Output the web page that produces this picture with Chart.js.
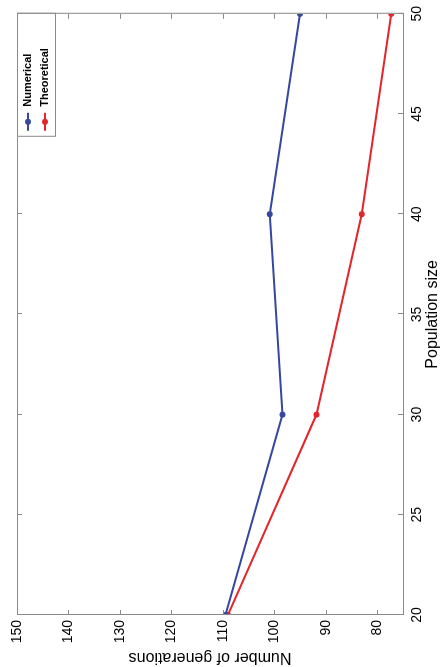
<!DOCTYPE html>
<html>
<head>
<meta charset="utf-8">
<script src="https://cdn.jsdelivr.net/npm/chart.js@4"></script>
<style>
  html, body { margin: 0; padding: 0; background: #fff; }
  #page { position: relative; width: 442px; height: 667px; overflow: hidden; }
  /* the figure is a normal plot turned a quarter turn to the left */
  #turn { position: absolute; left: 0; top: 0; width: 667px; height: 442px;
          transform-origin: 0 0; transform: translateY(667px) rotate(-90deg); }
</style>
</head>
<body>
<div id="page">
  <div id="turn"><canvas id="gens" width="667" height="442"></canvas></div>
</div>
<script>
// population size vs number of generations
const popSizes = [20, 30, 40, 50];
const numerical = [109.5, 98.4, 100.9, 95.0];
const theoretical = [109.0, 91.8, 83.0, 77.3];
const xTicks = [20, 25, 30, 35, 40, 45, 50];
const yTicks = [80, 90, 100, 110, 120, 130, 140, 150];

const blue = '#3647a0';
const red = '#e3262c';
const fontFam = '"Liberation Sans", Arial, sans-serif';

function pts(vals) {
    return popSizes.map((p, i) => ({ x: p, y: vals[i] }));
}

// matlab style box: frame with inward ticks on all four sides
const boxPlugin = {
    id: 'box',
    afterDraw(chart) {
        const ctx = chart.ctx;
        const a = chart.chartArea;
        const xs = chart.scales.x, ys = chart.scales.y;
        ctx.save();
        ctx.strokeStyle = '#8a8a8a';
        ctx.lineWidth = 1;
        ctx.strokeRect(a.left + 0.5, a.top + 0.5, a.right - a.left, a.bottom - a.top);
        ctx.beginPath();
        xTicks.forEach(v => {
            const px = Math.round(xs.getPixelForValue(v)) + 0.5;
            ctx.moveTo(px, a.bottom); ctx.lineTo(px, a.bottom - 5);
            ctx.moveTo(px, a.top); ctx.lineTo(px, a.top + 5);
        });
        yTicks.forEach(v => {
            const py = Math.round(ys.getPixelForValue(v)) + 0.5;
            ctx.moveTo(a.left, py); ctx.lineTo(a.left + 5, py);
            ctx.moveTo(a.right, py); ctx.lineTo(a.right - 5, py);
        });
        ctx.stroke();

        // legend in the upper right corner
        const lw = 123, lh = 38;
        const lx = a.right - lw, ly = a.top;
        ctx.fillStyle = '#fff';
        ctx.fillRect(lx, ly, lw, lh);
        ctx.strokeRect(lx + 0.5, ly + 0.5, lw, lh);
        chart.data.datasets.forEach((ds, i) => {
            const cy = ly + 11 + i * 17;
            ctx.strokeStyle = ds.borderColor;
            ctx.lineWidth = 2;
            ctx.beginPath();
            ctx.moveTo(lx + 6, cy); ctx.lineTo(lx + 24, cy);
            ctx.stroke();
            ctx.fillStyle = ds.borderColor;
            ctx.beginPath();
            ctx.arc(lx + 15, cy, 3, 0, Math.PI * 2);
            ctx.fill();
            ctx.fillStyle = '#000';
            ctx.font = 'bold 11px ' + fontFam;
            ctx.textBaseline = 'middle';
            ctx.fillText(ds.label, lx + 30, cy);
        });
        ctx.restore();
    }
};

new Chart(document.getElementById('gens'), {
    type: 'line',
    data: {
        datasets: [
            { label: 'Numerical', data: pts(numerical), borderColor: blue, backgroundColor: blue,
              borderWidth: 2, pointRadius: 3, pointBackgroundColor: blue, pointBorderWidth: 0 },
            { label: 'Theoretical', data: pts(theoretical), borderColor: red, backgroundColor: red,
              borderWidth: 2, pointRadius: 3, pointBackgroundColor: red, pointBorderWidth: 0 }
        ]
    },
    options: {
        responsive: false,
        animation: false,
        layout: { padding: { top: 17, right: 10, left: 0, bottom: 0 } },
        plugins: { legend: { display: false }, tooltip: { enabled: false } },
        scales: {
            x: {
                type: 'linear', min: 20, max: 50,
                grid: { display: false, drawTicks: false },
                border: { display: false },
                afterBuildTicks: s => { s.ticks = xTicks.map(v => ({ value: v })); },
                afterFit: s => { s.height = 39; },
                ticks: { color: '#000', padding: 6, font: { family: fontFam, size: 14 } },
                title: { display: true, text: 'Population size', color: '#000', padding: 0,
                         font: { family: fontFam, size: 16 } }
            },
            y: {
                type: 'linear', min: 75, max: 150,
                grid: { display: false, drawTicks: false },
                border: { display: false },
                afterBuildTicks: s => { s.ticks = yTicks.map(v => ({ value: v })); },
                afterFit: s => { s.width = 52; },
                ticks: { color: '#000', padding: 5, font: { family: fontFam, size: 14 } },
                title: { display: true, text: 'Number of generations', color: '#000', padding: 0,
                         font: { family: fontFam, size: 16 } }
            }
        }
    },
    plugins: [boxPlugin]
});
</script>
</body>
</html>
